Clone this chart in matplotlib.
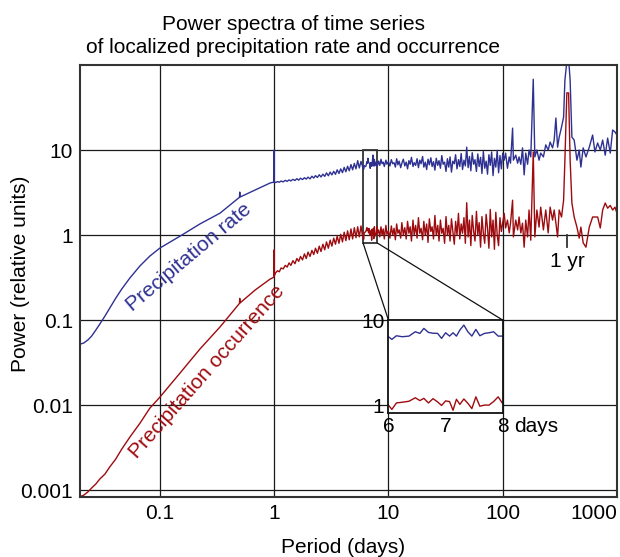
import numpy as np
import matplotlib
matplotlib.use("Agg")
import matplotlib.pyplot as plt
from matplotlib.patches import Rectangle, ConnectionPatch
from matplotlib.ticker import NullLocator, NullFormatter

plt.rcParams['font.family'] = ['Liberation Sans', 'DejaVu Sans']
plt.rcParams['font.size'] = 15

BLUE = '#2e3192'
RED = '#9e0b0f'

# sub-daily part (smooth, with the 12 h and 24 h lines)
period_subdaily = [0.0201, 0.0215, 0.0234, 0.0253, 0.0275, 0.0298, 0.033, 0.0364, 0.0411, 0.0464,
                   0.0546, 0.0668, 0.0817, 0.1, 0.15, 0.224, 0.336, 0.497, 0.5, 0.503,
                   0.68, 0.92, 0.998, 1.0, 1.002]
rate_subdaily = [0.0522, 0.0536, 0.0582, 0.0649, 0.0763, 0.0897, 0.111, 0.138, 0.181, 0.232,
                 0.312, 0.432, 0.566, 0.703, 0.97, 1.35, 1.81, 2.78, 3.2, 2.8,
                 3.38, 4.09, 4.2, 10.0, 4.2]
occ_subdaily = [0.00084, 0.00087, 0.00095, 0.00106, 0.00118, 0.00135, 0.00154, 0.00187, 0.00232, 0.00304,
                0.0042, 0.0061, 0.0092, 0.0124, 0.0238, 0.0456, 0.083, 0.157, 0.18, 0.159,
                0.225, 0.303, 0.32, 0.67, 0.33]

# 1 - 6 days
period_synoptic = [1.03, 1.07, 1.11, 1.15, 1.2, 1.25, 1.3, 1.35, 1.4, 1.46,
                   1.52, 1.58, 1.64, 1.7, 1.77, 1.84, 1.91, 1.98, 2.06, 2.14,
                   2.22, 2.3, 2.39, 2.48, 2.57, 2.67, 2.77, 2.87, 2.98, 3.09,
                   3.2, 3.32, 3.44, 3.56, 3.69, 3.82, 3.96, 4.1, 4.24, 4.39,
                   4.54, 4.7, 4.86, 5.03, 5.2, 5.38, 5.56, 5.75, 5.94]
rate_synoptic = [4.15, 4.25, 4.18, 4.32, 4.22, 4.4, 4.28, 4.45, 4.33, 4.52,
                 4.38, 4.6, 4.42, 4.66, 4.5, 4.72, 4.55, 4.8, 4.58, 4.92,
                 4.68, 5.0, 4.75, 5.12, 4.82, 5.2, 4.9, 5.38, 4.98, 5.5,
                 5.1, 5.62, 5.18, 5.85, 5.3, 6.0, 5.42, 6.25, 5.55, 6.45,
                 5.7, 6.75, 5.85, 6.95, 6.0, 7.5, 6.15, 7.35, 6.4]
occ_synoptic = [0.36, 0.38, 0.37, 0.41, 0.40, 0.44, 0.42, 0.47, 0.44, 0.50,
                0.46, 0.53, 0.49, 0.56, 0.51, 0.60, 0.53, 0.63, 0.56, 0.66,
                0.59, 0.70, 0.61, 0.74, 0.64, 0.78, 0.67, 0.83, 0.70, 0.87,
                0.74, 0.92, 0.78, 0.97, 0.80, 1.02, 0.83, 1.08, 0.86, 1.12,
                0.88, 1.18, 0.90, 1.22, 0.93, 1.25, 0.95, 1.28, 0.97]

# 6 - 8 days (shown enlarged in the inset)
period_zoom = [6.0, 6.06, 6.14, 6.24, 6.36, 6.47, 6.55, 6.62, 6.70, 6.78,
               6.86, 6.93, 7.0, 7.07, 7.13, 7.19, 7.25, 7.32, 7.39, 7.46,
               7.53, 7.60, 7.68, 7.76, 7.84, 7.92, 8.0]
rate_zoom = [6.37, 5.93, 6.54, 6.37, 6.48, 7.29, 6.97, 7.98, 7.16, 7.0,
             6.97, 6.09, 7.09, 6.48, 7.09, 6.48, 7.63, 8.73, 7.29, 6.48,
             7.77, 6.54, 6.97, 7.09, 7.29, 6.48, 6.48]
occ_zoom = [1.0, 0.89, 1.06, 1.08, 1.11, 1.22, 1.13, 1.20, 1.06, 1.19,
            1.09, 0.99, 1.12, 1.10, 0.87, 1.17, 1.02, 1.18, 1.05, 0.91,
            1.25, 0.97, 1.0, 1.0, 1.1, 1.25, 1.04]

# 8 - 100 days
period_monthly = [8.2, 8.4, 8.6, 8.8, 9.0, 9.2, 9.5, 9.7, 10.0, 10.3,
                  10.6, 10.9, 11.2, 11.5, 11.8, 12.1, 12.4, 12.8, 13.1, 13.5,
                  13.9, 14.3, 14.7, 15.1, 15.5, 15.9, 16.4, 16.8, 17.3, 17.8,
                  18.3, 18.8, 19.3, 19.9, 20.4, 21.0, 21.6, 22.2, 22.8, 23.5,
                  24.1, 24.8, 25.5, 26.2, 27.0, 27.7, 28.5, 29.3, 30.1, 31.0,
                  31.9, 32.8, 33.7, 34.6, 35.6, 36.6, 37.7, 38.7, 39.8, 41.0,
                  42.1, 43.3, 44.5, 45.8, 47.1, 48.4, 49.8, 51.2, 52.6, 54.1,
                  55.7, 57.2, 58.9, 60.5, 62.2, 64.0, 65.8, 67.7, 69.6, 71.6,
                  73.6, 75.7, 77.8, 80.0, 82.3, 84.6, 87.0, 89.5, 92.0, 94.6,
                  97.3, 100.0]
rate_monthly = [7.4, 6.6, 7.8, 6.9, 7.2, 6.4, 7.6, 6.8, 7.3, 6.5,
                7.7, 6.9, 7.1, 6.3, 7.9, 6.7, 7.4, 6.2, 7.0, 7.8,
                6.5, 7.2, 6.0, 7.5, 6.8, 8.2, 6.4, 7.1, 6.6, 7.9,
                6.2, 7.6, 6.9, 8.4, 6.3, 7.2, 5.9, 7.8, 6.7, 8.1,
                6.4, 7.3, 5.8, 8.0, 6.6, 7.5, 6.1, 8.6, 6.8, 7.2,
                5.6, 7.9, 6.3, 8.3, 5.5, 7.4, 6.9, 8.8, 6.0, 7.7,
                6.4, 9.1, 5.9, 7.6, 6.5, 10.8, 6.2, 8.4, 5.7, 9.3,
                6.8, 7.7, 5.6, 9.0, 6.4, 8.2, 5.3, 9.6, 6.1, 7.4,
                5.2, 8.8, 6.6, 9.5, 5.0, 8.0, 6.3, 9.9, 5.4, 8.6,
                6.0, 9.2]
occ_monthly = [1.15, 0.95, 1.25, 1.0, 1.18, 0.9, 1.3, 1.02, 1.12, 0.92,
               1.28, 1.0, 1.2, 0.88, 1.35, 1.05, 1.15, 0.92, 1.4, 1.0,
               1.22, 0.9, 1.45, 1.05, 1.25, 0.85, 1.5, 1.0, 1.3, 0.92,
               1.6, 1.05, 1.2, 0.88, 1.45, 1.0, 1.35, 0.82, 1.55, 1.1,
               1.25, 0.9, 1.7, 1.0, 1.3, 0.85, 1.5, 1.05, 1.2, 0.8,
               1.65, 1.0, 1.3, 0.85, 1.55, 1.1, 0.78, 1.45, 1.0, 1.8,
               0.9, 1.35, 1.05, 1.6, 0.8, 2.4, 0.95, 1.5, 0.75, 1.7,
               1.1, 0.85, 1.9, 1.0, 1.4, 0.72, 1.65, 1.05, 0.8, 1.75,
               1.2, 0.7, 2.0, 0.95, 1.5, 0.68, 1.85, 1.0, 0.75, 1.6,
               1.1, 1.4]

# 100 - 1000 days, annual cycle at 365 d
period_seasonal = [103, 106, 110, 114, 117, 122, 124, 130, 135, 139,
                   144, 149, 154, 159, 165, 170, 176, 185, 191, 199,
                   208, 215, 227, 238, 250, 260, 273, 282, 292, 302,
                   312, 327, 341, 350, 364, 377, 389, 403, 422, 446,
                   467, 483, 506, 535, 572, 612, 641, 677, 714, 749,
                   789, 828, 873, 916, 960, 1000]
rate_seasonal = [7.6, 9.2, 6.1, 8.3, 7.0, 18.1, 7.6, 8.7, 7.0, 8.3,
                 6.8, 10.6, 5.1, 9.2, 6.8, 10.0, 8.3, 68.0, 8.3, 10.0,
                 7.6, 9.2, 8.3, 11.5, 10.0, 12.4, 10.6, 13.1, 23.8, 10.8,
                 14.2, 18.6, 24.4, 66.0, 110.0, 120.0, 66.0, 14.2, 13.1, 7.6,
                 10.0, 6.3, 10.6, 8.3, 10.8, 15.0, 9.5, 12.1, 10.0, 13.1,
                 8.7, 13.8, 9.2, 17.2, 16.3, 15.0]
occ_seasonal = [1.8, 1.21, 1.5, 1.06, 1.38, 2.57, 0.95, 1.5, 1.15, 1.63,
                1.06, 1.38, 0.72, 1.5, 0.95, 1.97, 0.87, 9.5, 0.95, 1.97,
                1.24, 2.13, 1.15, 1.97, 1.06, 2.13, 1.5, 1.97, 1.38, 0.95,
                1.97, 1.63, 2.57, 7.6, 47.0, 47.0, 7.6, 2.38, 1.63, 1.24,
                0.92, 1.24, 0.81, 0.72, 1.24, 1.63, 1.63, 1.63, 1.21, 1.97,
                2.38, 2.07, 2.23, 1.97, 2.13, 1.8]

period = np.concatenate([period_subdaily, period_synoptic, period_zoom,
                         period_monthly, period_seasonal])
rate = np.concatenate([rate_subdaily, rate_synoptic, rate_zoom,
                       rate_monthly, rate_seasonal])
occurrence = np.concatenate([occ_subdaily, occ_synoptic, occ_zoom,
                             occ_monthly, occ_seasonal])

x_ticks = [0.1, 1, 10, 100, 1000]
x_labels = ['0.1', '1', '10', '100', '1000']
y_ticks = [0.001, 0.01, 0.1, 1, 10]
y_labels = ['0.001', '0.01', '0.1', '1', '10']

fig = plt.figure(figsize=(6.2, 5.57), dpi=100)
ax = fig.add_axes([80 / 620, 1 - 497 / 557, 537 / 620, 432 / 557])
ax.set_xscale('log')
ax.set_yscale('log')
ax.set_xlim(0.02, 1000)
ax.set_ylim(0.00083, 100)

ax.plot(period, rate, color=BLUE, lw=1.0)
ax.plot(period, occurrence, color=RED, lw=1.0)

ax.set_xticks(x_ticks)
labels = ax.set_xticklabels(x_labels)
labels[-1].set_horizontalalignment('right')
ax.set_yticks(y_ticks)
ax.set_yticklabels(y_labels)
ax.xaxis.set_minor_locator(NullLocator())
ax.yaxis.set_minor_locator(NullLocator())
ax.tick_params(length=0, pad=5, labelsize=15)
ax.grid(True, color='#1a1a1a', lw=0.9)
ax.set_axisbelow(True)
for s in ax.spines.values():
    s.set_color('#333333')
    s.set_linewidth(1.5)

# series labels
ax.text(0.18, 0.54, 'Precipitation rate', rotation=40, rotation_mode='anchor',
        ha='center', va='center', color=BLUE, fontsize=15)
ax.text(0.261, 0.0248, 'Precipitation occurrence', rotation=48.5, rotation_mode='anchor',
        ha='center', va='center', color=RED, fontsize=15)

# annual marker
ax.plot([365, 365], [1.0, 0.72], color='#333333', lw=1.3)
ax.text(365, 0.63, '1 yr', ha='center', va='top', fontsize=15)

# inset 6-8 days
axin = ax.inset_axes([10, 0.00805, 90, 0.09195], transform=ax.transData)
axin.set_yscale('log')
axin.set_xlim(6, 8)
axin.set_ylim(0.805, 10)
sel = (period >= 6) & (period <= 8)
axin.plot(period[sel], rate[sel], color=BLUE, lw=1.0)
axin.plot(period[sel], occurrence[sel], color=RED, lw=1.0)
axin.set_xticks([6, 7, 8])
axin.set_xticklabels(['6', '7', '8'])
axin.set_yticks([1, 10])
axin.set_yticklabels(['1', '10'])
axin.yaxis.set_minor_locator(NullLocator())
axin.yaxis.set_minor_formatter(NullFormatter())
axin.tick_params(length=0, pad=3, labelsize=15)
for s in axin.spines.values():
    s.set_color('#111111')
    s.set_linewidth(1.3)
axin.annotate('days', xy=(8, 0), xycoords=('data', 'axes fraction'),
              xytext=(8, -3), textcoords='offset points', ha='left', va='top', fontsize=15)

ax.add_patch(Rectangle((6, 0.805), 2, 9.195, fill=False, ec='#333333', lw=1.3))
for xa, xb in [(6, 0), (8, 1)]:
    con = ConnectionPatch(xyA=(xa, 0.805), coordsA=ax.transData,
                          xyB=(xb, 1), coordsB=axin.transAxes, color='#111111', lw=0.9)
    fig.add_artist(con)

fig.text(293 / 620, 1 - 30 / 557, 'Power spectra of time series', ha='center', va='baseline', fontsize=15)
fig.text(293 / 620, 1 - 53 / 557, 'of localized precipitation rate and occurrence',
         ha='center', va='baseline', fontsize=15)
fig.text(343 / 620, 1 - 553 / 557, 'Period (days)', ha='center', va='baseline', fontsize=15)
fig.text(21 / 620, 1 - 273.5 / 557, 'Power (relative units)', rotation=90,
         ha='center', va='center', fontsize=15)

fig.savefig('out.png', dpi=100)
